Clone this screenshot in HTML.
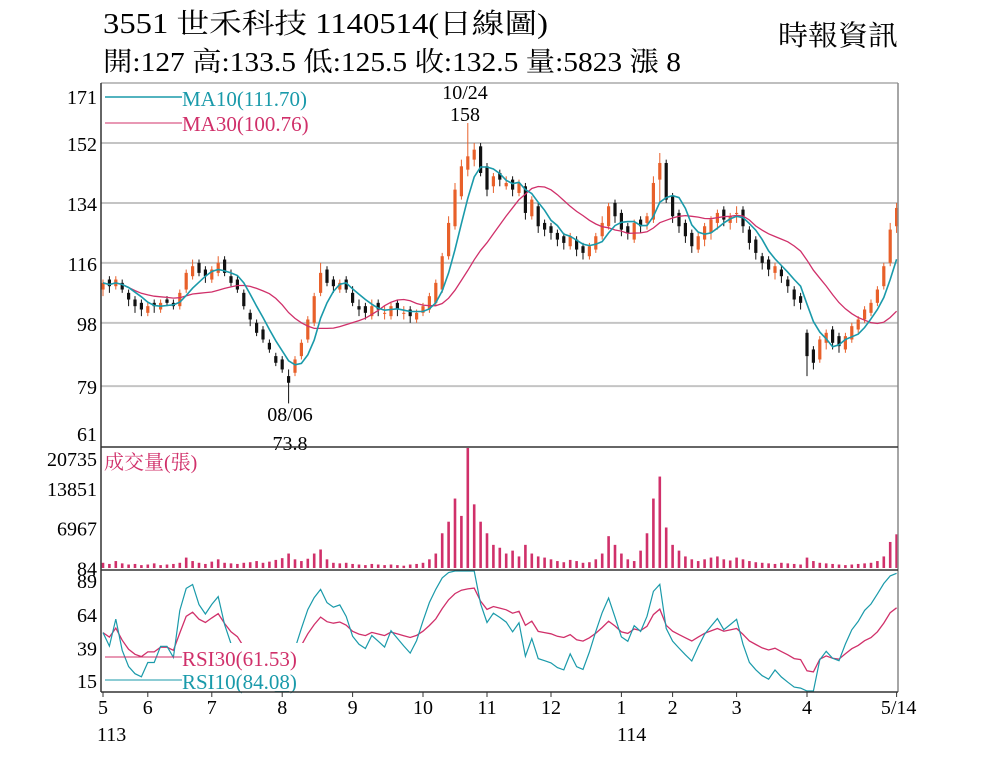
<!DOCTYPE html>
<html><head><meta charset="utf-8">
<style>
body{margin:0;background:#fff;}
svg{display:block;font-family:"Liberation Serif","Noto Serif CJK SC",serif;}
</style></head>
<body>
<svg id="chart" width="1000" height="771" viewBox="0 0 1000 771" xmlns="http://www.w3.org/2000/svg">
<rect x="0" y="0" width="1000" height="771" fill="#fff"/>
<text x="103" y="33" font-size="28" textLength="445" lengthAdjust="spacingAndGlyphs">3551  世禾科技 1140514(日線圖)</text>
<text x="103" y="71" font-size="27" textLength="578" lengthAdjust="spacingAndGlyphs">開:127 高:133.5 低:125.5 收:132.5 量:5823 漲 8</text>
<text x="778" y="45" font-size="28" textLength="120" lengthAdjust="spacingAndGlyphs">時報資訊</text>
<g id="grid"></g>
<g id="marks"></g>
<g id="frame">
<line x1="101" y1="83" x2="898" y2="83" stroke="#aaa" stroke-width="1.5"/>
<line x1="101" y1="83" x2="101" y2="692" stroke="#333" stroke-width="1.5"/>
<line x1="898" y1="83" x2="898" y2="692" stroke="#888" stroke-width="1.5"/>
<line x1="101" y1="447" x2="898" y2="447" stroke="#333" stroke-width="1.5"/>
<line x1="101" y1="570" x2="898" y2="570" stroke="#333" stroke-width="1.5"/>
<line x1="101" y1="692" x2="898" y2="692" stroke="#333" stroke-width="1.5"/>
</g>
<g id="legends">
<line x1="105" y1="97" x2="182" y2="97" stroke="#1a9aaa" stroke-width="1.5"/>
<text x="182" y="106" font-size="21" fill="#1a9aaa">MA10(111.70)</text>
<line x1="105" y1="123" x2="182" y2="123" stroke="#d0306a" stroke-width="1"/>
<text x="182" y="131" font-size="21" fill="#d0306a">MA30(100.76)</text>
<text x="104" y="469" font-size="20" fill="#d0306a">成交量(張)</text>
<rect x="180" y="643" width="132" height="48" fill="#fff"/>
<line x1="105" y1="657" x2="182" y2="657" stroke="#d0306a" stroke-width="1"/>
<text x="182" y="666" font-size="21" fill="#d0306a">RSI30(61.53)</text>
<line x1="105" y1="680" x2="182" y2="680" stroke="#1a9aaa" stroke-width="1"/>
<text x="182" y="689" font-size="21" fill="#1a9aaa">RSI10(84.08)</text>
<text x="465" y="99" font-size="20" text-anchor="middle">10/24</text>
<text x="465" y="121" font-size="20" text-anchor="middle">158</text>
<text x="290" y="421" font-size="20" text-anchor="middle">08/06</text>
<text x="290" y="450" font-size="20" text-anchor="middle" stroke="#fff" stroke-width="4" paint-order="stroke">73.8</text>
<text x="97" y="741" font-size="20">113</text>
<text x="617" y="741" font-size="20">114</text>
</g>
</svg>
<script>
const closes=[110,109,111,108,105,103,102,103,103,104,104,103,107,113,115,113,112,114,116,113,110,108,103,99,95,93,90,86,84,80,87,92,99,106,113,110,109,110,108,104,102,101,103,102,101,103,102,101,100,101,103,106,110,118,128,138,145,148,150,143,138,142,141,140,138,140,131,135,127,126,125,123,122,124,120,119,121,124,128,133,130,126,125,128,127,130,140,146,135,130,127,124,121,124,127,129,131,129,130,131,127,122,119,116,114,115,112,109,105,104,88,86,93,95,92,91,94,97,99,102,104,108,115,126,132.5];
const opens=[108,111,109,110,107,105,104,101,104,102,105,104,103,108,112,116,114,111,113,117,112,111,107,101,98,96,92,88,87,82,83,88,93,98,107,114,111,108,111,107,103,103,100,104,101,100,104,101,102,99,101,102,104,108,118,127,136,144,147,151,145,139,143,139,141,137,139,130,133,128,127,125,124,121,123,121,118,120,124,127,134,131,127,123,129,128,129,141,146,136,131,128,125,120,123,125,128,132,128,131,132,126,123,118,117,113,114,111,108,106,95,90,87,92,96,94,90,93,96,99,101,104,109,116,127];
const highs=[111,112,112,111,108,106,105,104,105,105,106,105,108,114,117,117,115,115,118,118,114,112,108,102,99,97,93,89,88,84,88,93,100,107,116,115,112,111,112,109,105,104,105,105,103,104,105,103,103,102,104,107,111,119,130,140,147,158,152,152,146,143,144,142,142,141,140,136,134,129,128,126,125,125,124,122,122,125,130,134,135,132,128,129,130,131,142,149,147,137,132,129,126,125,128,130,132,133,131,133,133,127,124,119,118,116,115,112,109,107,96,91,94,96,97,95,95,98,100,103,105,109,116,128,134];
const lows=[106,107,108,107,103,101,100,100,101,101,103,102,102,107,111,112,110,110,112,112,109,107,102,97,94,92,89,85,83,73.8,82,87,92,97,106,109,107,107,107,103,100,99,99,100,99,99,100,99,98,98,100,101,103,107,117,126,135,142,145,142,136,137,139,138,136,136,129,129,125,124,123,121,120,120,118,117,117,119,123,126,128,124,123,122,125,126,128,134,134,128,125,122,119,119,121,123,126,127,126,128,125,120,117,114,112,111,110,107,103,102,82,84,86,90,90,89,89,92,95,98,100,103,108,115,125];
const volumes=[900,700,1200,800,600,700,500,600,800,500,600,700,900,1800,1200,900,700,1100,1500,900,800,700,900,1000,1200,900,1100,1400,1700,2500,1500,1200,1600,2500,3200,1500,900,800,900,700,600,500,700,600,500,600,500,400,600,700,900,1500,2500,6000,8000,12000,9000,20735,11000,8000,6000,4000,3500,2500,3000,2000,4000,2500,2000,1800,1500,1200,1000,1400,1200,900,1000,1500,2500,5500,4000,2500,1500,1200,3000,6000,12000,15800,7000,4000,3000,2000,1500,1200,1500,1800,2000,1500,1300,1800,1500,1200,1000,900,800,700,900,800,700,600,1800,1200,900,800,700,600,500,600,700,800,900,1200,2000,4500,5823];
const priceTicks=[171,152,134,116,98,79,61];
const volumeTicks=[20735,13851,6967,84];
const rsiTicks=[89,64,39,15];
const monthLabels=["5","6","7","8","9","10","11","12","1","2","3","4","5/14"];
const monthIndex=[0,7,17,28,39,50,60,70,81,89,99,110,124];

const NS="http://www.w3.org/2000/svg";
const grid=document.getElementById('grid'), marks=document.getElementById('marks');
const xOf=i=>103+i*6.4;
const yP=v=>143+(152-v)*3.33;
const yV=v=>568-v/20735*120;
const yR=v=>Math.max(571,Math.min(691,580+(89-v)*1.35));
function mk(tag,attrs,parent){const e=document.createElementNS(NS,tag);for(const k in attrs)e.setAttribute(k,attrs[k]);parent.appendChild(e);return e;}

priceTicks.forEach((t,i)=>{
  const y=yP(t);
  if(i>0&&i<priceTicks.length-1){const l=mk('line',{x1:101,x2:898,y1:y,y2:y,stroke:'#c4c4c4','stroke-width':2},grid);
  
  }
  const tx=mk('text',{x:97,y:Math.max(104,Math.min(441,y+8)),'font-size':20,'text-anchor':'end'},grid);
  tx.textContent=t;
  
  
});
volumeTicks.forEach(t=>{
  const tx=mk('text',{x:97,y:Math.max(466,yV(t)+8),'font-size':20,'text-anchor':'end'},grid);
  tx.textContent=t;
  
  
});
rsiTicks.forEach(t=>{
  const y=580+(89-t)*1.35;
  const tx=mk('text',{x:97,y:y+8,'font-size':20,'text-anchor':'end'},grid);
  tx.textContent=t;
  
  
});
monthLabels.forEach((m,k)=>{
  const x=xOf(monthIndex[k]);
  const tk=mk('line',{x1:x,x2:x,y1:692,y2:697,stroke:'#333'},grid);
  
  
  const tx=mk('text',{x:(k===monthLabels.length-1)?x+2:x,y:714,'font-size':20,'text-anchor':'middle'},grid);
  tx.textContent=m;
  
  
});

closes.forEach((c,i)=>{
  const o=opens[i],x=xOf(i),up=c>=o,col=up?'#e8602a':'#111';
  const w=mk('line',{x1:x,x2:x,y1:yP(highs[i]),y2:yP(lows[i]),stroke:col,'stroke-width':1},marks);
  
  
  const top=yP(Math.max(o,c)),bot=yP(Math.min(o,c));
  const b=mk('rect',{x:x-1.6,y:top,width:3.2,height:Math.max(1,bot-top),fill:col},marks);
  
  
  const v=mk('rect',{x:x-1.3,y:yV(volumes[i]),width:2.6,height:568-yV(volumes[i]),fill:'#d0306a'},marks);
  
  
});
function ma(n){return closes.map((_,i)=>{const s=closes.slice(Math.max(0,i-n+1),i+1);return s.reduce((a,b)=>a+b,0)/s.length;});}
function rsi(n){let g=0,l=0;const out=[];for(let i=0;i<closes.length;i++){const d=i?closes[i]-closes[i-1]:0;
  const up=Math.max(d,0),dn=Math.max(-d,0);
  if(i===0){g=0.5;l=0.5;}else{g=(g*(n-1)+up)/n;l=(l*(n-1)+dn)/n;}
  out.push(100*g/(g+l));}return out;}
function poly(vals,yf,col,sw,name){
  const pts=vals.map((v,i)=>xOf(i).toFixed(1)+','+yf(v).toFixed(1)).join(' ');
  const p=mk('polyline',{points:pts,fill:'none',stroke:col,'stroke-width':sw},marks);
  
  
}
poly(ma(15),yP,'#d0306a',1.3,'ma30-line');
poly(ma(5),yP,'#1a9aaa',1.6,'ma10-line');
poly(rsi(15),yR,'#d0306a',1.3,'rsi30-line');
poly(rsi(5),yR,'#1a9aaa',1.2,'rsi10-line');
const svg=document.getElementById('chart');
svg.appendChild(document.getElementById('legends'));
svg.appendChild(document.getElementById('frame'));
</script>
</body></html>
